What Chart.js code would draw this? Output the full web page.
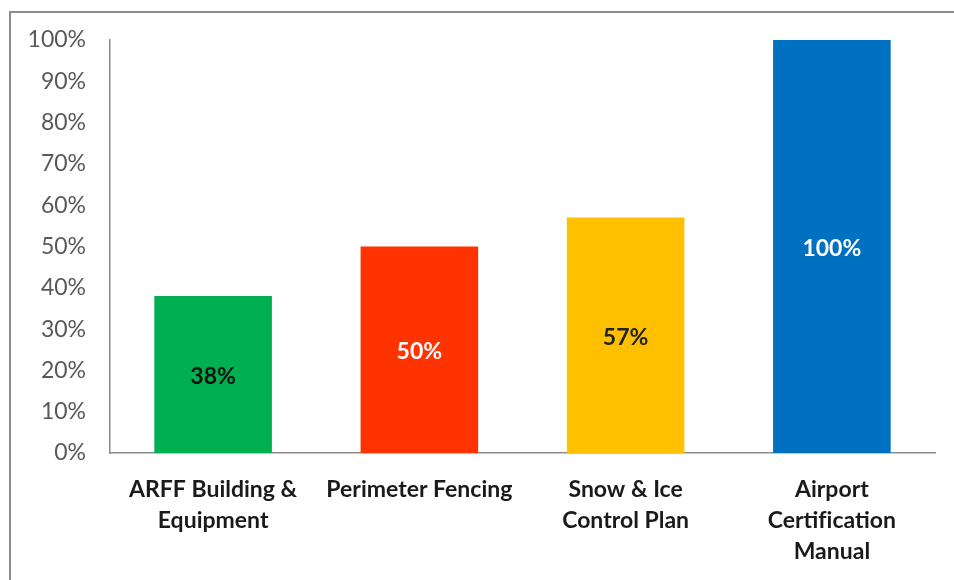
<!DOCTYPE html>
<html>
<head>
<meta charset="utf-8">
<script src="https://cdn.jsdelivr.net/npm/chart.js@4"></script>
<style>
  html, body { margin: 0; padding: 0; background: #fff; overflow: hidden; }
  #wrap { position: relative; width: 954px; height: 580px; }
  #frame { position: absolute; left: 9px; top: 11px; width: 980px; height: 620px; border: 2px solid #8c8c8c; box-sizing: border-box; }
  canvas { position: absolute; left: 0; top: 0; }
</style>
</head>
<body>
<div id="wrap">
  <div id="frame"></div>
  <canvas id="progressChart" width="954" height="580"></canvas>
</div>
<script>
// \u200C keeps "f" and "i" apart instead of forming a ligature
const categories = [
    ['ARFF Building &', 'Equipment'],
    ['Perimeter Fencing'],
    ['Snow & Ice', 'Control Plan'],
    ['Airport', 'Certif\u200Cication', 'Manual']
];
const completion = [38, 50, 57, 100];
const barColors = ['#00B050', '#FF3300', '#FFC000', '#0070C0'];
const labelColors = ['#111111', '#ffffff', '#222222', '#ffffff'];
const yTicks = [0, 10, 20, 30, 40, 50, 60, 70, 80, 90, 100];

const fontFamily = 'Lato, "Open Sans", sans-serif';

// writes the percentage in the middle of each bar
const barValueLabels = {
    id: 'barValueLabels',
    afterDatasetsDraw(chart) {
        const ctx = chart.ctx;
        const meta = chart.getDatasetMeta(0);
        ctx.save();
        ctx.font = 'bold 23px ' + fontFamily;
        ctx.textAlign = 'center';
        ctx.textBaseline = 'middle';
        meta.data.forEach((bar, i) => {
            const mid = (bar.y + bar.base) / 2;
            ctx.fillStyle = labelColors[i];
            ctx.fillText(completion[i] + '%', bar.x, mid + 2);
        });
        ctx.restore();
    }
};

const ctx = document.getElementById('progressChart').getContext('2d');
new Chart(ctx, {
    type: 'bar',
    data: {
        labels: categories,
        datasets: [{
            data: completion,
            backgroundColor: barColors,
            borderWidth: 0,
            barPercentage: 0.57,
            categoryPercentage: 1
        }]
    },
    options: {
        responsive: false,
        animation: false,
        layout: { padding: { top: 40, right: 19, left: 0, bottom: 0 } },
        plugins: {
            legend: { display: false },
            tooltip: { enabled: false }
        },
        scales: {
            x: {
                grid: { display: false, drawTicks: false },
                border: { display: true, color: '#8c8c8c', width: 1.5 },
                ticks: {
                    color: '#1a1a1a',
                    padding: 21,
                    maxRotation: 0,
                    autoSkip: false,
                    font: { family: fontFamily, size: 23, weight: 'bold', lineHeight: 1.35 }
                },
                afterFit(axis) { axis.height = 127; }
            },
            y: {
                min: 0,
                max: 100,
                grid: { display: false, drawTicks: false },
                border: { display: true, color: '#8c8c8c', width: 1.5 },
                afterBuildTicks(axis) { axis.ticks = yTicks.map(v => ({ value: v })); },
                ticks: {
                    color: '#595959',
                    padding: 24,
                    font: { family: fontFamily, size: 23 },
                    callback: v => v + '%'
                },
                afterFit(axis) { axis.width = 110; }
            }
        }
    },
    plugins: [barValueLabels]
});
</script>
</body>
</html>
